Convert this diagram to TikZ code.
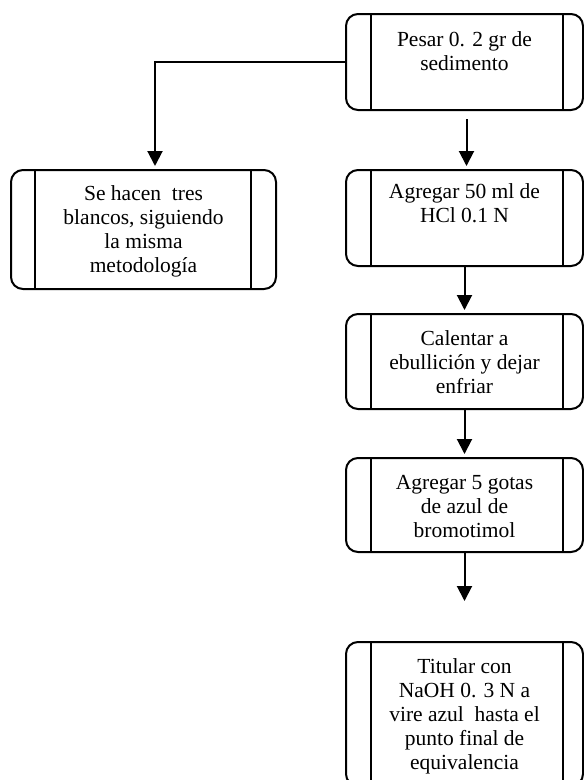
\documentclass[tikz,border=0pt]{standalone}
\usepackage{fontspec}
\setmainfont{Liberation Serif}
\usetikzlibrary{arrows.meta}
\newcommand{\caja}[3]{\parbox[t][#1][t]{200pt}{\centering\rule{0pt}{#2}#3}}
\begin{document}
\begin{tikzpicture}[x=1pt,y=-1pt,
		paso/.style n args={3}{draw,line width=2pt,rounded corners=12pt,inner sep=0pt,
			minimum width=#1,font=\fontsize{21.5}{24}\selectfont,
			path picture={
				\draw[line width=2pt] ([xshift=#2]path picture bounding box.north west) -- ([xshift=#2]path picture bounding box.south west);
				\draw[line width=2pt] ([xshift=-#3]path picture bounding box.north east) -- ([xshift=-#3]path picture bounding box.south east);
			}},
		flecha/.style={line width=2pt,-{Triangle[width=15pt,length=15pt]},shorten >=3pt}]
	 		\useasboundingbox (0,0) rectangle (584,780);
	 		\clip (0,0) rectangle (584,780);
	 		
			\node[paso={237pt}{25pt}{20pt},anchor=north] (pesar) at (464.5,13) {\caja{96pt}{32pt}{Pesar 0. 2 gr de\\sedimento}};
			\node[paso={265pt}{24pt}{25pt},anchor=north] (blancos) at (143.5,169) {\caja{119pt}{30pt}{Se hacen~ tres\\blancos, siguiendo\\la misma\\metodología}};
			\node[paso={237pt}{25pt}{20pt},anchor=north] (agregar) at (464.5,169) {\caja{96pt}{28pt}{Agregar 50 ml de\\HCl 0.1 N}};
			\node[paso={237pt}{25pt}{20pt},anchor=north] (calentar) at (464.5,313) {\caja{95pt}{31pt}{Calentar a\\ebullición y dejar\\enfriar}};
			\node[paso={237pt}{25pt}{20pt},anchor=north] (gotas) at (464.5,457) {\caja{94pt}{31pt}{Agregar 5 gotas\\de azul de\\bromotimol}};
			\node[paso={237pt}{25pt}{20pt},anchor=north] (titular) at (464.5,641) {\caja{144pt}{31pt}{Titular con\\NaOH 0. 3 N a\\vire azul~ hasta el\\punto final de\\equivalencia}};
			
			\draw[flecha] (pesar.west) -| ([xshift=11.5pt]blancos.north);
			\draw[flecha] ([xshift=2pt,yshift=-8pt]pesar.south) -- ([xshift=2pt]agregar.north);
			\draw[flecha] (agregar.south) -- (calentar.north);
			\draw[flecha] (calentar.south) -- (gotas.north);
			\draw[flecha,shorten >=40pt] (gotas.south) -- (titular.north);
	 	\end{tikzpicture}
\end{document}
